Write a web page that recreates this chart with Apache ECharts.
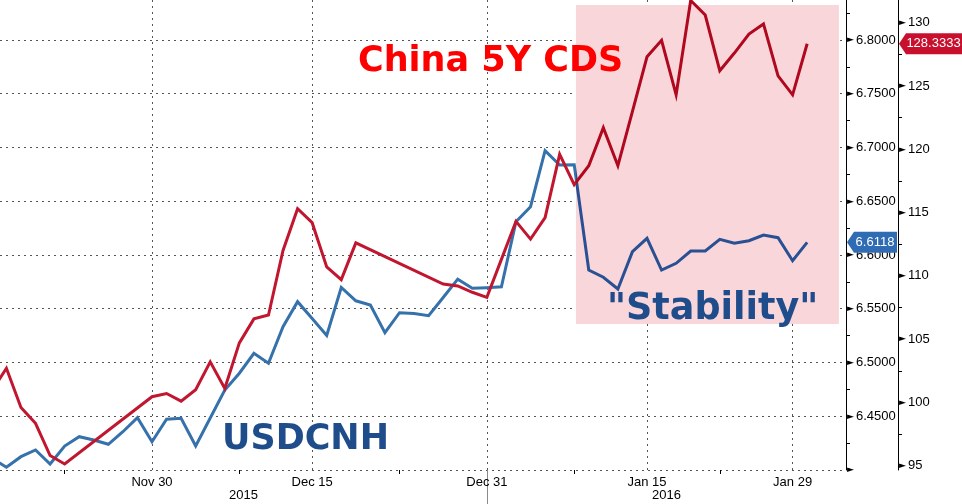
<!DOCTYPE html>
<html><head><meta charset="utf-8">
<script src="https://cdn.jsdelivr.net/npm/echarts@6/dist/echarts.min.js"></script>
<style>html,body{margin:0;padding:0;background:#fff}#c{width:962px;height:504px}</style>
</head><body><div id="c"></div>
<script>
// Trading days (weekdays)
const dates = [
 '2015-11-13','2015-11-16','2015-11-17','2015-11-18','2015-11-19','2015-11-20',
 '2015-11-23','2015-11-24','2015-11-25','2015-11-26','2015-11-27',
 '2015-11-30','2015-12-01','2015-12-02','2015-12-03','2015-12-04',
 '2015-12-07','2015-12-08','2015-12-09','2015-12-10','2015-12-11',
 '2015-12-14','2015-12-15','2015-12-16','2015-12-17','2015-12-18',
 '2015-12-21','2015-12-22','2015-12-23','2015-12-24','2015-12-25',
 '2015-12-28','2015-12-29','2015-12-30','2015-12-31','2016-01-01',
 '2016-01-04','2016-01-05','2016-01-06','2016-01-07','2016-01-08',
 '2016-01-11','2016-01-12','2016-01-13','2016-01-14','2016-01-15',
 '2016-01-18','2016-01-19','2016-01-20','2016-01-21','2016-01-22',
 '2016-01-25','2016-01-26','2016-01-27','2016-01-28','2016-01-29',
 '2016-02-01'
];
const usdcnh = [
 6.4109,6.4025,6.4124,6.4186,6.4056,6.4223,6.4310,6.4279,6.4239,6.4356,
 6.4487,6.4263,6.4472,6.4481,6.4223,6.4484,6.4744,6.4900,6.5086,6.4993,
 6.5333,6.5566,6.5409,6.5251,6.5698,6.5574,6.5535,6.5277,6.5463,6.5455,
 6.5435,6.5605,6.5775,6.5690,6.5696,6.5705,6.6310,6.6449,6.6970,6.6837,
 6.6840,6.5860,6.5793,6.5684,6.6031,6.6155,6.5860,6.5923,6.6037,6.6037,
 6.6146,6.6109,6.6133,6.6186,6.6161,6.5947,6.6118
];
const cds5y = [
 100.9,102.7,99.6,98.35,95.8,95.13,null,null,null,null,null,
 100.45,100.7,100.1,101.0,103.2,101.1,104.7,106.6,106.9,112.0,115.3,114.2,110.7,109.7,112.6,
 null,null,null,null,null,
 109.35,109.2,108.7,108.3,111.3,114.3,112.9,114.6,119.6,117.2,118.7,121.7,118.7,123.0,
 127.3,128.6,124.3,131.75,130.6,126.2,127.6,129.1,129.9,125.8,124.3,128.3333
];
const usdTicks = [6.40,6.45,6.50,6.55,6.60,6.65,6.70,6.75,6.80];
const usdMinor = [6.425,6.475,6.525,6.575,6.625,6.675,6.725,6.775,6.825];
const cdsTicks = [95,100,105,110,115,120,125,130];
const cdsMinor = [97.5,102.5,107.5,112.5,117.5,122.5,127.5];
const majorDates = ['2015-11-30','2015-12-15','2015-12-31','2016-01-15','2016-01-29'];
const minorDates = ['2015-11-20','2015-12-08','2015-12-23','2016-01-08','2016-01-22'];
const yearBreakDate = '2015-12-31';
const years = ['2015','2016'];
const usdName = 'USDCNH';
const cdsName = 'China 5Y CDS';
const stabilityText = '"Stability"';

const MON = ['Jan','Feb','Mar','Apr','May','Jun','Jul','Aug','Sep','Oct','Nov','Dec'];
const idx = d => dates.indexOf(d);
const fmtDate = i => { const d = dates[Math.round(i)]; if(!d) return ''; const p = d.split('-'); return MON[+p[1]-1] + ' ' + (+p[2]); };
const XMIN = 0.5598, XMAX = 58.668;
const yb = idx(yearBreakDate);
const yearCenters = [(XMIN + yb)/2, (yb + XMAX)/2];
const toPairs = arr => arr.map((v,i) => [i, v == null ? '-' : v]);
const SHADE_X0 = 40.12, SHADE_X1 = 58.18, SHADE_Y0 = 6.8326, SHADE_Y1 = 6.5358;

const FONT = 'Liberation Sans';
const GRID = '#555';
const arrowRich = { t: { fontSize: 9, color: '#000', fontFamily: 'DejaVu Sans', padding: [0, 2, 0, 0] } };

const chart = echarts.init(document.getElementById('c'), null, {renderer: 'canvas'});
const option = {
  animation: false,
  backgroundColor: '#fff',
  grid: { left: 0, right: 116, top: 0, bottom: 34, containLabel: false },
  xAxis: [
    { type: 'value', min: XMIN, max: XMAX, position: 'bottom',
      axisLine: { show: false },
      axisTick: { show: false, customValues: majorDates.map(idx) },
      axisLabel: { customValues: majorDates.map(idx), formatter: v => fmtDate(v),
        margin: 6, fontSize: 13, color: '#000', fontFamily: FONT },
      splitLine: { show: true, lineStyle: { color: GRID, type: [2, 4], width: 1 } } },
    { type: 'value', min: XMIN, max: XMAX, position: 'bottom',
      axisLine: { show: false },
      axisTick: { show: true, customValues: minorDates.map(idx), length: 4, lineStyle: { color: '#000' } },
      axisLabel: { show: false }, splitLine: { show: false } },
    { type: 'value', min: XMIN, max: XMAX, position: 'bottom',
      axisLine: { show: false },
      axisTick: { show: true, customValues: [yb], length: 34, lineStyle: { color: '#8a8a8a', width: 1 } },
      axisLabel: { customValues: yearCenters, formatter: v => v < yb ? years[0] : years[1],
        margin: 19, fontSize: 13, color: '#000', fontFamily: FONT },
      splitLine: { show: false } }
  ],
  yAxis: [
    { type: 'value', position: 'right', min: 6.40, max: 6.8372,
      axisLine: { show: true, lineStyle: { color: '#000', width: 1 } },
      axisTick: { show: true, customValues: usdMinor, length: 4, lineStyle: { color: '#000' } },
      axisLabel: { customValues: usdTicks, margin: 1, fontSize: 13, color: '#000', fontFamily: FONT,
        formatter: v => Math.abs(v - usdTicks[0]) < 1e-9 ? '{t|►}' : '{t|►}' + v.toFixed(4), rich: arrowRich },
      splitLine: { show: false } },
    { type: 'value', position: 'right', offset: 52, min: 94.66, max: 131.79,
      axisLine: { show: true, lineStyle: { color: '#000', width: 1 } },
      axisTick: { show: true, customValues: cdsMinor, length: 4, lineStyle: { color: '#000' } },
      axisLabel: { customValues: cdsTicks, margin: 1, fontSize: 13, color: '#000', fontFamily: FONT,
        formatter: v => '{t|►}' + v, rich: arrowRich },
      splitLine: { show: false } },
    { type: 'value', position: 'right', offset: 0, min: 6.40, max: 6.8372,
      axisLine: { show: false },
      axisTick: { show: false, customValues: usdTicks },
      axisLabel: { show: false },
      splitLine: { show: true, lineStyle: { color: GRID, type: [2, 4], width: 1 } } }
  ],
  series: [
    { type: 'line', xAxisIndex: 0, yAxisIndex: 0, data: [], z: 1, silent: true,
      markArea: { silent: true, itemStyle: { color: '#f9d6d9' },
        data: [[{ coord: [SHADE_X0, SHADE_Y0] }, { coord: [SHADE_X1, SHADE_Y1] }]] } },
    { name: usdName, type: 'line', xAxisIndex: 0, yAxisIndex: 0, data: toPairs(usdcnh),
      showSymbol: false, connectNulls: true, z: 3,
      lineStyle: { width: 3, color: '#3571ab', join: 'miter' } },
    { name: cdsName, type: 'line', xAxisIndex: 0, yAxisIndex: 1, data: toPairs(cds5y),
      showSymbol: false, connectNulls: true, z: 4,
      lineStyle: { width: 3, color: '#c1162f', join: 'miter' } }
  ]
};
chart.setOption(option);

// colours of the lines darken inside the shaded band
const W = chart.getWidth();
const xs = chart.convertToPixel({ xAxisIndex: 0 }, SHADE_X0);
const f = Math.min(1, Math.max(0, xs / W));
const split = (a, b) => new echarts.graphic.LinearGradient(0, 0, W, 0,
  [{ offset: 0, color: a }, { offset: f, color: a }, { offset: f, color: b }, { offset: 1, color: b }], true);

const lastU = usdcnh[usdcnh.length - 1];
const lastC = cds5y[cds5y.length - 1];
const yU = chart.convertToPixel({ yAxisIndex: 0 }, lastU);
const yC = chart.convertToPixel({ yAxisIndex: 1 }, lastC);
const axU = 846, axC = 898;
const tag = (x0, x1, y, color, text) => ([
  { type: 'polygon', z: 100, shape: { points: [[x0, y], [x0 + 7, y - 10.5], [x1, y - 10.5], [x1, y + 10.5], [x0 + 7, y + 10.5]] },
    style: { fill: color } },
  { type: 'text', z: 101, x: (x0 + 6 + x1) / 2, y: y,
    style: { text: text, fill: '#fff', font: '13px "Liberation Sans"', align: 'center', verticalAlign: 'middle' } }
]);
chart.setOption({
  series: [{}, { lineStyle: { color: split('#3571ab', '#2a5094') } }, { lineStyle: { color: split('#c1162f', '#b0081f') } }],
  graphic: [].concat(
    tag(axU + 1, axU + 51, yU, '#2f6cb3', lastU.toFixed(4)),
    tag(axC + 1, 962, yC, '#c8102e', lastC.toFixed(4)),
    [
      { type: 'text', z: 50, x: 358, y: 62, style: { text: cdsName, fill: '#ff0000', font: 'bold 35px "DejaVu Sans"', verticalAlign: 'middle' } },
      { type: 'text', z: 50, x: 222, y: 440, style: { text: usdName, fill: '#1f4d8c', font: 'bold 35px "DejaVu Sans"', verticalAlign: 'middle' } },
      { type: 'text', z: 50, x: 607, y: 310, style: { text: stabilityText, fill: '#1f4d8c', font: 'bold 36.5px "DejaVu Sans"', verticalAlign: 'middle' } }
    ]
  )
});
</script></body></html>
